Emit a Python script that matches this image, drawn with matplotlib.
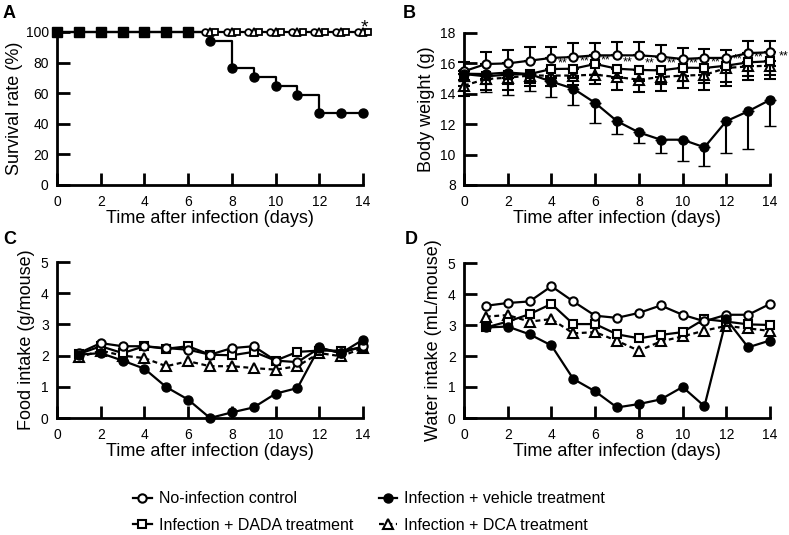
import matplotlib
matplotlib.use('Agg')
import matplotlib.pyplot as plt
import numpy as np
from matplotlib.lines import Line2D

plt.rcParams['font.family'] = ['Liberation Sans', 'DejaVu Sans']

# ---------------- data ----------------
days = [0, 1, 2, 3, 4, 5, 6, 7, 8, 9, 10, 11, 12, 13, 14]
days_intake = [1, 2, 3, 4, 5, 6, 7, 8, 9, 10, 11, 12, 13, 14]

# Panel A: survival (%)
surv_ctrl = [100, 100, 100, 100, 100, 100, 100, 100, 100, 100, 100, 100, 100, 100, 100]
surv_dada = [100, 100, 100, 100, 100, 100, 100, 100, 100, 100, 100, 100, 100, 100, 100]
surv_dca = [100, 100, 100, 100, 100, 100, 100, 100, 100, 100, 100, 100, 100, 100, 100]
surv_veh = [100, 100, 100, 100, 100, 100, 100, 94.1, 76.5, 70.6, 64.7, 58.8, 47.1, 47.1, 47.1]

# Panel B: body weight (g)
bw_ctrl = [15.48, 15.96, 16.0, 16.18, 16.36, 16.42, 16.53, 16.53, 16.53, 16.44, 16.29, 16.36, 16.36, 16.68, 16.73]
bw_ctrl_err = [0.6, 0.8, 0.85, 0.9, 0.75, 0.9, 0.8, 0.85, 0.9, 0.8, 0.7, 0.6, 0.55, 0.8, 0.75]
bw_veh = [15.32, 15.3, 15.4, 15.3, 14.8, 14.34, 13.4, 12.2, 11.46, 10.98, 10.98, 10.48, 12.2, 12.85, 13.6]
bw_veh_err = [0.5, 1.2, 1.5, 1.1, 1.0, 1.1, 1.3, 0.85, 0.7, 0.9, 1.4, 1.25, 2.1, 2.45, 1.7]
bw_dada = [15.3, 15.15, 15.26, 15.3, 15.63, 15.65, 15.96, 15.65, 15.57, 15.54, 15.72, 15.7, 15.85, 16.07, 16.14]
bw_dada_err = [0.4, 0.5, 0.6, 0.6, 0.6, 0.6, 0.7, 0.6, 0.7, 0.9, 0.9, 1.0, 1.1, 0.9, 0.9]
bw_dca = [14.54, 14.97, 15.06, 15.2, 15.2, 15.2, 15.26, 15.1, 14.93, 15.1, 15.2, 15.24, 15.7, 15.8, 15.85]
bw_dca_err = [0.7, 0.7, 0.8, 0.7, 0.7, 0.6, 0.6, 0.85, 0.8, 0.9, 0.8, 1.0, 1.2, 0.9, 0.9]
sig_days = [4, 5, 6, 7, 8, 9, 10, 11, 12, 13, 14]
sig_label = '**'

# Panel C: food intake (g/mouse)
food_ctrl = [2.08, 2.40, 2.30, 2.30, 2.24, 2.19, 2.03, 2.24, 2.30, 1.84, 1.79, 2.24, 2.08, 2.30]
food_veh = [2.03, 2.08, 1.84, 1.58, 0.99, 0.59, 0.0, 0.18, 0.34, 0.78, 0.96, 2.26, 2.08, 2.51]
food_dada = [2.05, 2.30, 2.08, 2.30, 2.22, 2.30, 2.03, 2.01, 2.12, 1.84, 2.12, 2.16, 2.16, 2.26]
food_dca = [1.94, 2.16, 2.0, 1.92, 1.66, 1.82, 1.66, 1.66, 1.60, 1.55, 1.66, 2.08, 1.98, 2.24]

# Panel D: water intake (mL/mouse)
water_ctrl = [3.62, 3.71, 3.76, 4.25, 3.76, 3.30, 3.23, 3.39, 3.63, 3.33, 3.12, 3.33, 3.33, 3.68]
water_veh = [2.92, 2.95, 2.70, 2.34, 1.26, 0.86, 0.34, 0.45, 0.60, 1.0, 0.38, 3.19, 2.28, 2.50]
water_dada = [2.92, 3.11, 3.35, 3.68, 3.03, 3.03, 2.70, 2.57, 2.68, 2.77, 3.19, 3.11, 3.02, 3.0]
water_dca = [3.27, 3.32, 3.11, 3.19, 2.73, 2.77, 2.49, 2.17, 2.47, 2.63, 2.82, 2.97, 2.89, 2.81]

labels = ['No-infection control', 'Infection + DADA treatment',
          'Infection + vehicle treatment', 'Infection + DCA treatment']
xlabel = 'Time after infection (days)'
x_ticks = [0, 2, 4, 6, 8, 10, 12, 14]

# ---------------- styles ----------------
LW = 1.6
DASH = (0, (2.2, 1.6))
sty = {
    'ctrl': dict(marker='o', ms=6, mfc='white', mec='k', mew=1.5, color='k', ls='-', lw=LW),
    'dada': dict(marker='s', ms=5.5, mfc='white', mec='k', mew=1.5, color='k', ls='-', lw=LW),
    'veh': dict(marker='o', ms=6.5, mfc='k', mec='k', mew=1.0, color='k', ls='-', lw=LW),
    'dca': dict(marker='^', ms=6.5, mfc='white', mec='k', mew=1.5, color='k', ls=DASH, lw=LW),
}

fig = plt.figure(figsize=(7.89, 5.35), dpi=100)
W, H = 789.0, 535.0


def add_ax(left_px, right_px, top_px, bottom_px):
    return fig.add_axes([left_px / W, 1 - bottom_px / H, (right_px - left_px) / W, (bottom_px - top_px) / H])


def style(ax):
    for s in ['top', 'right']:
        ax.spines[s].set_visible(False)
    for s in ['left', 'bottom']:
        ax.spines[s].set_linewidth(2)
    ax.tick_params(direction='in', length=9, width=2, labelsize=10)
    ax.tick_params(axis='x', pad=7)
    ax.tick_params(axis='y', pad=6)
    ax.set_xticks(x_ticks)
    ax.set_xlim(0, 14)
    ax.set_xlabel(xlabel, fontsize=13, labelpad=1)


axA = add_ax(57, 363, 32, 185)
axB = add_ax(464, 770, 33, 185)
axC = add_ax(57, 363, 262, 418)
axD = add_ax(464, 770, 263, 418)

# ---------------- Panel A ----------------
ax = axA
style(ax)
ax.set_ylim(0, 100)
ax.set_yticks([0, 20, 40, 60, 80, 100])
ax.set_ylabel('Survival rate (%)', fontsize=13, labelpad=2)
ax.plot(days, surv_ctrl, color='k', lw=LW, clip_on=False, zorder=2)
ax.plot(days, surv_veh, color='k', lw=LW, drawstyle='steps-post', clip_on=False, zorder=2)
d = np.array(days, dtype=float)
sc, sd, sa, sv = map(np.array, (surv_ctrl, surv_dada, surv_dca, surv_veh))
same = (sc == sd) & (sc == sa) & (sc == sv)
diff = ~same
ax.plot(d[same], sc[same], 's', ms=6.5, color='k', clip_on=False, zorder=4)
off = 0.24
ax.plot(d[diff] - off, sc[diff], 'o', ms=4.8, mfc='white', mec='k', mew=1.3, ls='none', clip_on=False, zorder=4)
ax.plot(d[diff], sa[diff], '^', ms=5.2, mfc='white', mec='k', mew=1.3, ls='none', clip_on=False, zorder=4)
ax.plot(d[diff] + off, sd[diff], 's', ms=4.8, mfc='white', mec='k', mew=1.3, ls='none', clip_on=False, zorder=4)
ax.plot(d[diff], sv[diff], 'o', ms=6.5, color='k', ls='none', clip_on=False, zorder=4)
ax.annotate('*', (days[-1] + off, surv_dada[-1]), xytext=(-3, -3), textcoords='offset points',
            fontsize=14, ha='center', va='bottom', annotation_clip=False)

# ---------------- Panel B ----------------
ax = axB
style(ax)
ax.set_ylim(8, 18)
ax.set_yticks([8, 10, 12, 14, 16, 18])
ax.set_ylabel('Body weight (g)', fontsize=13, labelpad=4)
z = np.zeros(15)
eb = dict(capsize=4, elinewidth=1.5, capthick=1.5, ecolor='k', clip_on=False)
ax.errorbar(days, bw_dca, yerr=[bw_dca_err, z], zorder=2, **eb, **sty['dca'])
ax.errorbar(days, bw_dada, yerr=[bw_dada_err, z], zorder=3, **eb, **sty['dada'])
ax.errorbar(days, bw_ctrl, yerr=[z, bw_ctrl_err], zorder=4, **eb, **sty['ctrl'])
ax.errorbar(days, bw_veh, yerr=[bw_veh_err, z], zorder=5, **eb, **sty['veh'])
for sd_ in sig_days:
    if sd_ < 14:
        xm = sd_ + 0.5
        ym = (bw_ctrl[sd_] + bw_ctrl[sd_ + 1] + bw_dada[sd_] + bw_dada[sd_ + 1]) / 4.0
    else:
        xm = sd_ + 0.6
        ym = (bw_ctrl[sd_] + bw_dada[sd_]) / 2.0
    ax.text(xm, ym, sig_label, fontsize=9, ha='center', va='center', zorder=6, clip_on=False)

# ---------------- Panels C, D ----------------
for ax, yl, c, v, dd, a in [
    (axC, 'Food intake (g/mouse)', food_ctrl, food_veh, food_dada, food_dca),
    (axD, 'Water intake (mL/mouse)', water_ctrl, water_veh, water_dada, water_dca),
]:
    style(ax)
    ax.set_ylim(0, 5)
    ax.set_yticks([0, 1, 2, 3, 4, 5])
    ax.set_ylabel(yl, fontsize=13, labelpad=4)
    ax.plot(days_intake, a, zorder=2, clip_on=False, **sty['dca'])
    ax.plot(days_intake, dd, zorder=3, clip_on=False, **sty['dada'])
    ax.plot(days_intake, c, zorder=4, clip_on=False, **sty['ctrl'])
    ax.plot(days_intake, v, zorder=5, clip_on=False, **sty['veh'])

# panel letters
for txt, xp, yp in [('A', 3, 13), ('B', 403, 14), ('C', 3, 239), ('D', 405, 240)]:
    fig.text(xp / W, 1 - yp / H, txt, fontsize=13, fontweight='bold', va='center', ha='left')

# legend
handles = [Line2D([], [], **sty['ctrl']), Line2D([], [], **sty['dada']),
           Line2D([], [], **sty['veh']), Line2D([], [], **sty['dca'])]
fig.legend(handles, labels, ncol=2, loc='center', bbox_to_anchor=(0.468, 0.043),
           frameon=False, fontsize=11.5, handlelength=1.15, handletextpad=0.45,
           columnspacing=1.6, labelspacing=0.7, borderpad=0)

fig.savefig('out.png', dpi=100)
